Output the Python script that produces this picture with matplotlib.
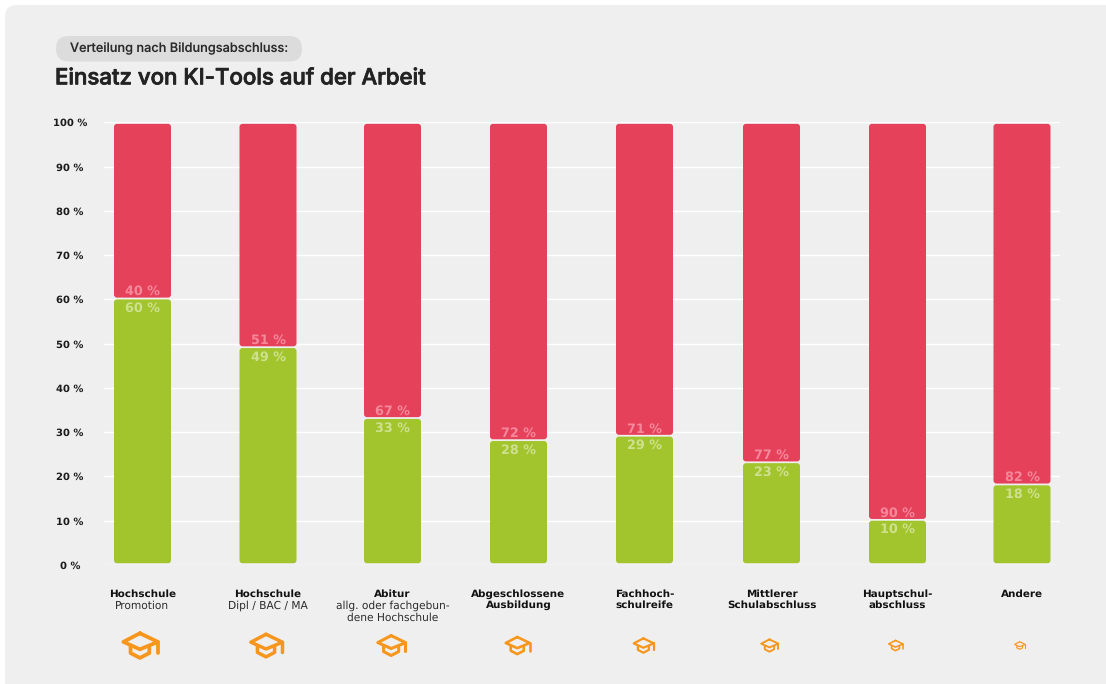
import matplotlib
matplotlib.use("Agg")
import matplotlib.pyplot as plt
import matplotlib.patheffects as pe
from matplotlib.patches import FancyBboxPatch

plt.rcParams["text.hinting"] = "none"

categories = ["Hochschule", "Hochschule", "Abitur", "Abgeschlossene\nAusbildung", "Fachhoch-\nschulreife",
              "Mittlerer\nSchulabschluss", "Hauptschul-\nabschluss", "Andere"]
sublabels = ["Promotion", "Dipl / BAC / MA", "allg. oder fachgebun-\ndene Hochschule", "", "", "", "", ""]
ja = [60, 49, 33, 28, 29, 23, 10, 18]
nein = [40, 51, 67, 72, 71, 77, 90, 82]
yticks = [0, 10, 20, 30, 40, 50, 60, 70, 80, 90, 100]

# bar centres and icon sizes in pixels, the columns are not evenly spaced
centers = [142.5, 268, 392.5, 518.5, 644.5, 771.5, 897.5, 1022]
icon_x = [141, 267, 392, 518, 644, 770, 896, 1020]
icon_w = [36, 33, 29, 25, 21, 18, 15, 11]

GREEN = "#a2c42d"
RED = "#e6415b"
ORANGE = "#f7961c"
W, H = 1106, 684
PX_PER_PCT = 4.427

fig = plt.figure(figsize=(W / 100, H / 100), dpi=100, facecolor="white")

# background layer in pixel coordinates
bg = fig.add_axes([0, 0, 1, 1], zorder=0)
bg.set_xlim(0, W)
bg.set_ylim(H, 0)
bg.axis("off")
bg.add_patch(FancyBboxPatch((5, 5), W + 30, H + 30, boxstyle="round,pad=0,rounding_size=12",
                            fc="#efefef", ec="none"))
bg.add_patch(FancyBboxPatch((5, 660), 30, H - 660, boxstyle="round,pad=0,rounding_size=4",
                            fc="#efefef", ec="none"))
bg.add_patch(FancyBboxPatch((56, 36), 246, 25.5, boxstyle="round,pad=0,rounding_size=12.7",
                            fc="#dcdcdc", ec="none"))
bg.text(70, 48.5, "Verteilung nach Bildungsabschluss:", fontsize=9.2, family="Inter", fontweight="medium",
        color="#2b2b2b", va="center", ha="left")
bg.text(55, 78.5, "Einsatz von KI-Tools auf der Arbeit", fontsize=16.0, family="Inter", fontweight="medium",
        color="#232323", va="center", ha="left",
        path_effects=[pe.withStroke(linewidth=0.55, foreground="#232323")])


def draw_cap(x, y, w):
    lw = w * 0.105 * 0.72
    style = dict(color=ORANGE, lw=lw, solid_joinstyle="round", solid_capstyle="round")
    bg.plot([x - 0.03 * w, x - 0.49 * w, x - 0.03 * w, x + 0.47 * w, x - 0.03 * w],
            [y - 0.34 * w, y - 0.10 * w, y + 0.105 * w, y - 0.10 * w, y - 0.34 * w], **style)
    bg.plot([x - 0.29 * w, x - 0.29 * w, x - 0.03 * w, x + 0.23 * w, x + 0.23 * w],
            [y + 0.03 * w, y + 0.21 * w, y + 0.345 * w, y + 0.21 * w, y + 0.03 * w], **style)
    bg.plot([x + 0.46 * w, x + 0.46 * w], [y - 0.10 * w, y + 0.2 * w], **style)


for ix, iw in zip(icon_x, icon_w):
    draw_cap(ix, 645.5, iw)

# chart axes, x runs in pixels so the uneven columns can be placed directly
ax = fig.add_axes([104 / W, (H - 565) / H, (1060 - 104) / W, 442.7 / H], zorder=1)
ax.patch.set_alpha(0)
ax.set_xlim(104, 1060)
ax.set_ylim(0, 100)
for s in ax.spines.values():
    s.set_visible(False)
ax.set_yticks(yticks)
ax.set_yticklabels([f"{v} %" for v in yticks], fontsize=7.2, fontweight="bold", color="#1c1c1c", ha="center")
ax.tick_params(axis="y", length=0, pad=24.5)
ax.grid(axis="y", color="white", lw=1.0)
ax.set_axisbelow(True)
ax.set_xticks(centers)
ax.set_xticklabels(categories, fontsize=7.5, fontweight="bold", color="#111111", linespacing=1.18, va="top")
ax.tick_params(axis="x", length=0, pad=17.3)

bars_ja = ax.bar(centers, ja, width=57, color=GREEN)
bars_nein = ax.bar(centers, nein, width=57, bottom=ja, color=RED)

# swap the plain rectangles for rounded ones, slightly inset from the gridline
for group, color, top_gap in ((bars_ja, GREEN, 0.0), (bars_nein, RED, 0.35)):
    for b in group:
        gap = 0.4
        ax.add_patch(FancyBboxPatch((b.get_x(), b.get_y() + gap), b.get_width(), b.get_height() - gap - top_gap,
                                    boxstyle="round,pad=0,rounding_size=3", mutation_aspect=1 / PX_PER_PCT,
                                    fc=color, ec="none", zorder=3))
        b.set_visible(False)

for x, g, r in zip(centers, ja, nein):
    ax.annotate(f"{r} %", (x, g), xytext=(0, 5.6), textcoords="offset points", ha="center", va="center",
                fontsize=9.2, fontweight="bold", color="#f5889a", zorder=4)
    ax.annotate(f"{g} %", (x, g), xytext=(0, -6.4), textcoords="offset points", ha="center", va="center",
                fontsize=9.2, fontweight="bold", color="#cfe18f", zorder=4)

for x, s in zip(centers, sublabels):
    if s:
        bg.text(x, 600, s, fontsize=7.7, color="#2b2b2b", ha="center", va="top", linespacing=1.2)

fig.savefig("out.png", dpi=100, facecolor="white")
